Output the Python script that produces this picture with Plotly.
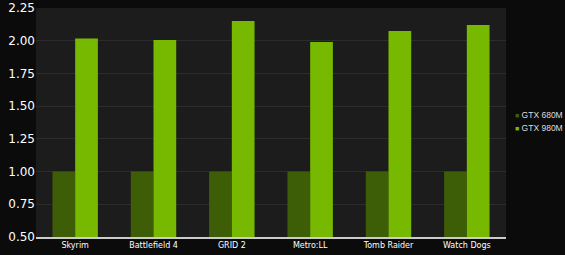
import plotly.graph_objects as go

games = ["Skyrim", "Battlefield 4", "GRID 2", "Metro:LL", "Tomb Raider", "Watch Dogs"]
gtx680m = [1.0, 1.0, 1.0, 1.0, 1.0, 1.0]
gtx980m = [2.017, 2.006, 2.15, 1.99, 2.075, 2.12]
yticks = [0.5, 0.75, 1.0, 1.25, 1.5, 1.75, 2.0, 2.25]
series_names = ["GTX 680M", "GTX 980M"]
series_colors = ["#3d5e07", "#76b900"]

fig = go.Figure()
fig.add_trace(go.Bar(x=games, y=gtx680m, name=series_names[0], marker_color=series_colors[0], marker_line_width=0))
fig.add_trace(go.Bar(x=games, y=gtx980m, name=series_names[1], marker_color=series_colors[1], marker_line_width=0))

# compact legend drawn as annotations
for i, (n, c) in enumerate(zip(series_names, series_colors)):
    fig.add_annotation(
        xref="paper", yref="paper", x=1.018, y=0.533 - i * 0.057,
        xanchor="left", yanchor="middle", showarrow=False, borderpad=0,
        text=f'<span style="color:{c};font-size:7px">■</span> {n}',
        font=dict(size=8.5, family="Liberation Sans", color="#dddddd"),
    )

fig.update_layout(
    width=565, height=255,
    margin=dict(l=36, r=59, t=8, b=18, autoexpand=False),
    paper_bgcolor="#0b0b0b",
    plot_bgcolor="#1c1c1c",
    barmode="group",
    bargap=0.42,
    bargroupgap=0,
    font=dict(family="DejaVu Sans", color="#ffffff"),
    showlegend=False,
)
fig.update_yaxes(range=[0.5, 2.25], tickvals=yticks, tickformat=".2f",
                 gridcolor="#2c2c2c", gridwidth=1, zeroline=False,
                 tickfont=dict(size=12, color="#ffffff"), ticks="", showline=False)
fig.update_xaxes(showline=True, linecolor="#cccccc", linewidth=1.5,
                 tickfont=dict(size=8, color="#ffffff"), ticks="", showgrid=False)

fig.write_html("out.html")
